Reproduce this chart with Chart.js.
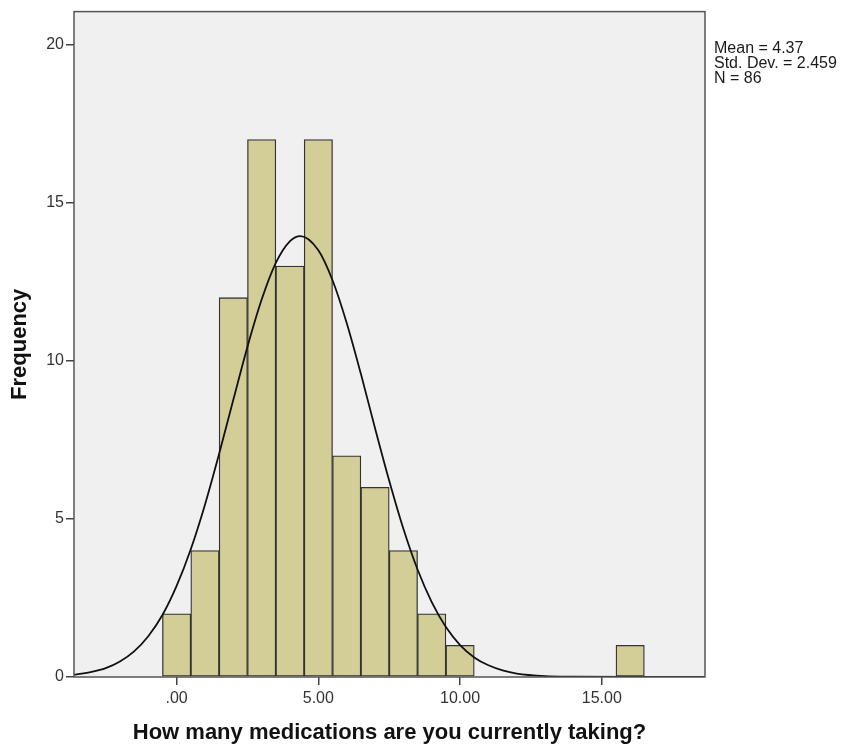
<!DOCTYPE html>
<html>
<head>
<meta charset="utf-8">
<title>Medications histogram</title>
<script src="https://cdn.jsdelivr.net/npm/chart.js@4.4.1/dist/chart.umd.min.js"></script>
<style>
  html, body { margin: 0; padding: 0; background: #ffffff; }
  #wrap { width: 843px; height: 749px; position: relative; }
</style>
</head>
<body>
<div id="wrap"><canvas id="chart"></canvas></div>
<script>
  // histogram bins (bin width 1, centred on whole numbers)
  const binCenters = [0, 1, 2, 3, 4, 5, 6, 7, 8, 9, 10, 11, 12, 13, 14, 15, 16];
  const frequencies = [2, 4, 12, 17, 13, 17, 7, 6, 4, 2, 1, 0, 0, 0, 0, 0, 1];

  // normal curve
  const curveX = [-3.62, -3, -2.5, -2, -1.5, -1, -0.5, 0, 0.5, 1, 1.5, 2, 2.5, 3, 3.5, 4, 4.37, 5, 5.5, 6, 6.5, 7, 7.5, 8, 8.5, 9, 9.5, 10, 10.5, 11, 11.5, 12, 13, 14, 16, 18.64];
  const curveY = [0.07, 0.16, 0.28, 0.49, 0.81, 1.29, 1.96, 2.88, 4.04, 5.45, 7.06, 8.77, 10.45, 11.94, 13.10, 13.79, 13.95, 13.50, 12.55, 11.20, 9.59, 7.87, 6.21, 4.69, 3.40, 2.37, 1.58, 1.01, 0.62, 0.37, 0.21, 0.11, 0.03, 0.01, 0, 0];

  const xTicks = [0, 5, 10, 15];
  const yTicks = [0, 5, 10, 15, 20];
  const statLines = ["Mean = 4.37", "Std. Dev. = 2.459", "N = 86"];

  const FONT = "Arial, 'Liberation Sans', Helvetica, sans-serif";

  const plotFrame = {
    id: "plotFrame",
    beforeDatasetsDraw(chart) {
      const { ctx, chartArea: a } = chart;
      ctx.save();
      ctx.fillStyle = "#f0f0f0";
      ctx.fillRect(a.left, a.top, a.right - a.left, a.bottom - a.top);
      ctx.restore();
    },
    afterDraw(chart) {
      const { ctx, chartArea: a } = chart;
      ctx.save();
      ctx.strokeStyle = "#555555";
      ctx.lineWidth = 1.5;
      ctx.strokeRect(a.left, a.top, a.right - a.left, a.bottom - a.top);

      ctx.fillStyle = "#1a1a1a";
      ctx.font = "16px " + FONT;
      ctx.textBaseline = "alphabetic";
      ctx.textAlign = "left";
      statLines.forEach((line, i) => {
        ctx.fillText(line, a.right + 9, 53 + i * 15);
      });
      ctx.restore();
    }
  };

  new Chart(document.getElementById("chart"), {
    type: "bar",
    data: {
      datasets: [
        {
          type: "line",
          data: curveX.map((x, i) => ({ x, y: curveY[i] })),
          borderColor: "#111111",
          borderWidth: 1.8,
          pointRadius: 0,
          cubicInterpolationMode: "monotone",
          fill: false,
          order: 0
        },
        {
          type: "bar",
          data: binCenters.map((x, i) => ({ x, y: frequencies[i] || null })),
          backgroundColor: "#d3ce97",
          borderColor: "#333333",
          borderWidth: 1.3,
          borderSkipped: false,
          barPercentage: 1,
          categoryPercentage: 1,
          order: 1
        }
      ]
    },
    options: {
      responsive: true,
      maintainAspectRatio: false,
      animation: false,
      layout: { padding: { top: 7, right: 138, left: 0, bottom: 0 } },
      plugins: {
        legend: { display: false },
        tooltip: { enabled: false }
      },
      scales: {
        x: {
          type: "linear",
          min: -3.62,
          max: 18.64,
          offset: false,
          afterFit(scale) { scale.height = 72; },
          afterBuildTicks(scale) { scale.ticks = xTicks.map((v) => ({ value: v })); },
          border: { display: false },
          grid: { display: true, offset: false, drawOnChartArea: false, drawTicks: true, tickLength: 8, color: "#444444", lineWidth: 1.5 },
          ticks: {
            includeBounds: false,
            color: "#333333",
            font: { family: FONT, size: 16 },
            padding: 4,
            maxRotation: 0,
            callback(value) { return value === 0 ? ".00" : Number(value).toFixed(2); }
          },
          title: {
            display: true,
            text: "How many medications are you currently taking?",
            color: "#111111",
            font: { family: FONT, size: 22, weight: "bold" },
            padding: { top: 0, bottom: 3 }
          }
        },
        y: {
          min: 0,
          max: 21.05,
          afterFit(scale) { scale.width = 74; },
          afterBuildTicks(scale) { scale.ticks = yTicks.map((v) => ({ value: v })); },
          border: { display: false },
          grid: { display: true, drawOnChartArea: false, drawTicks: true, tickLength: 8, color: "#444444", lineWidth: 1.5 },
          ticks: {
            includeBounds: false,
            color: "#333333",
            font: { family: FONT, size: 16 },
            padding: 2
          },
          title: {
            display: true,
            text: "Frequency",
            color: "#111111",
            font: { family: FONT, size: 22, weight: "bold" },
            padding: { top: 7, bottom: 0 }
          }
        }
      }
    },
    plugins: [plotFrame]
  });
</script>
</body>
</html>
